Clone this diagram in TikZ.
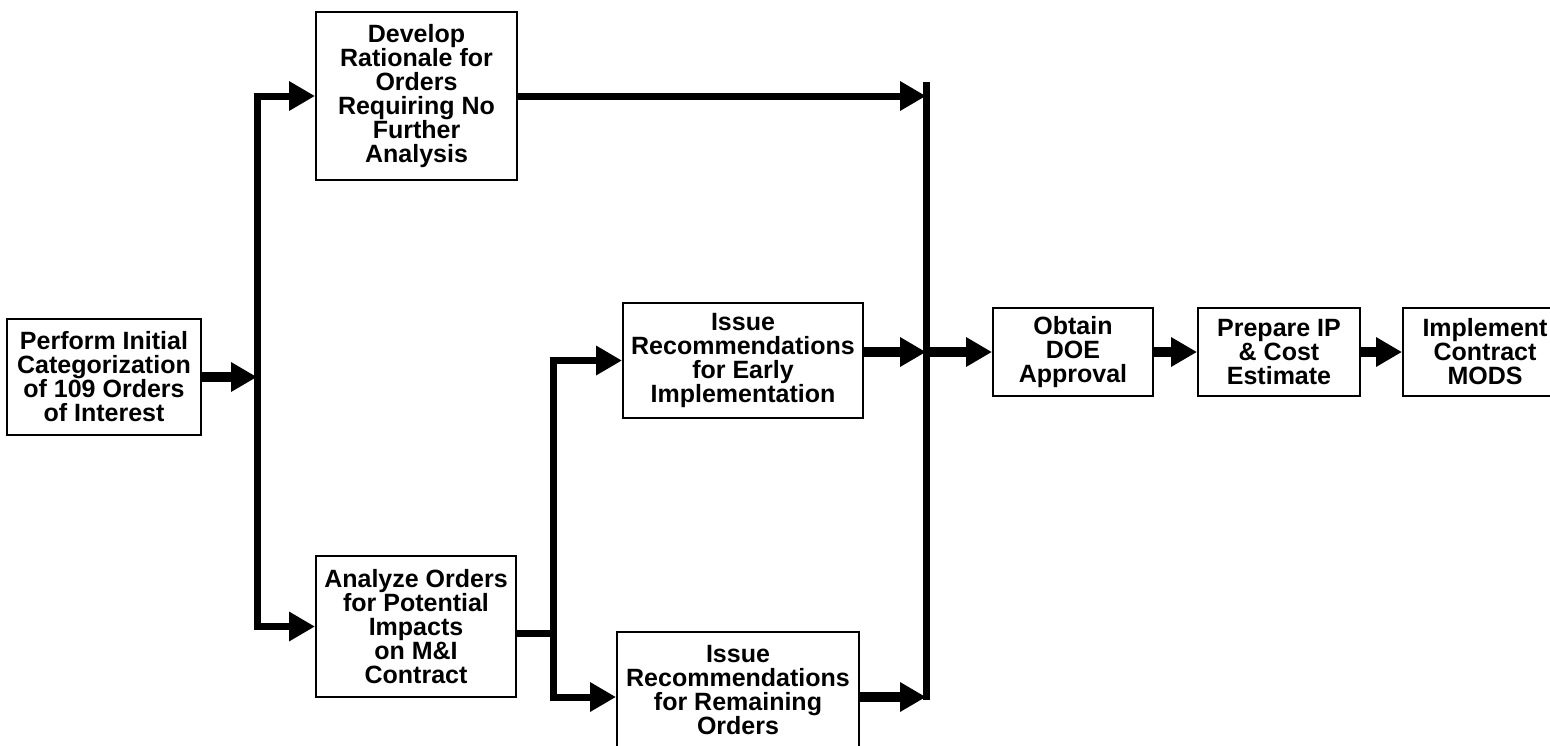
\documentclass[tikz,border=0pt]{standalone}
\usepackage{fontspec}
\setmainfont{Liberation Sans}
\usetikzlibrary{arrows.meta}
\begin{document}
\begin{tikzpicture}[x=0.5pt,y=-0.5pt,
  >={Triangle[length=13pt,width=14pt]},
  box/.style={draw, line width=1pt, align=center, inner sep=0pt,
    font=\bfseries\fontsize{12.5}{12}\selectfont},
  link/.style={line width=3.5pt, line join=miter},
  stem/.style={line width=5pt, ->},
]
\clip (0,0) rectangle (1550,745);

% process boxes
\node[box, minimum width=97pt, minimum height=58pt] (perform) at (104,377)
  {Perform Initial\\Categorization\\of 109 Orders\\of Interest};
\node[box, minimum width=100.5pt, minimum height=84pt] (develop) at (416.5,96)
  {Develop\\Rationale for\\Orders\\Requiring No\\Further\\Analysis};
\node[box, minimum width=100pt, minimum height=70.5pt] (analyze) at (416,626.5)
  {Analyze Orders\\for Potential\\Impacts\\on M\&I\\Contract};
\node[box, minimum width=120pt, minimum height=57.5pt] (early) at (743,360.5)
  {Issue\\Recommendations\\for Early\\Implementation};
\node[box, minimum width=121pt, minimum height=58pt] (remain) at (738,690)
  {Issue\\Recommendations\\for Remaining\\Orders};
\node[box, minimum width=80pt, minimum height=44pt] (obtain) at (1073,352)
  {Obtain\\DOE\\Approval};
\node[box, minimum width=81pt, minimum height=44pt] (prepare) at (1279,352)
  {Prepare IP\\\& Cost\\Estimate};
\node[box, minimum width=82pt, minimum height=44pt] (implement) at (1485,352)
  {Implement\\Contract\\MODS};

% branching spines and the merge bar
\coordinate (spine) at (257,377);
\coordinate (split) at (553,633);
\coordinate (lowrow) at (738,697);
\coordinate (bartop) at (926,82);
\coordinate (barbot) at (926,700);
\coordinate (barmid) at (926,352);

% first split: develop / analyze
\draw[stem] (perform.east) -- (perform.east -| spine);
\draw[link, <->] (develop.west) -| (spine) |- (analyze.west);

% second split: early / remaining
\draw[link] (analyze.east |- split) -- (split);
\draw[link, <->] (early.west) -| (split) |- (remain.west |- lowrow);

% merge bar
\draw[link] (bartop) -- (barbot);
\draw[link, ->] (develop.east) -- (develop.east -| bartop);
\draw[stem] (early.east |- barmid) -- (barmid);
\draw[stem] (remain.east |- lowrow) -- (lowrow -| barbot);

% final sequence
\draw[stem] (barmid) -- (obtain.west);
\draw[stem] (obtain) -- (prepare);
\draw[stem] (prepare) -- (implement);
\end{tikzpicture}
\end{document}
